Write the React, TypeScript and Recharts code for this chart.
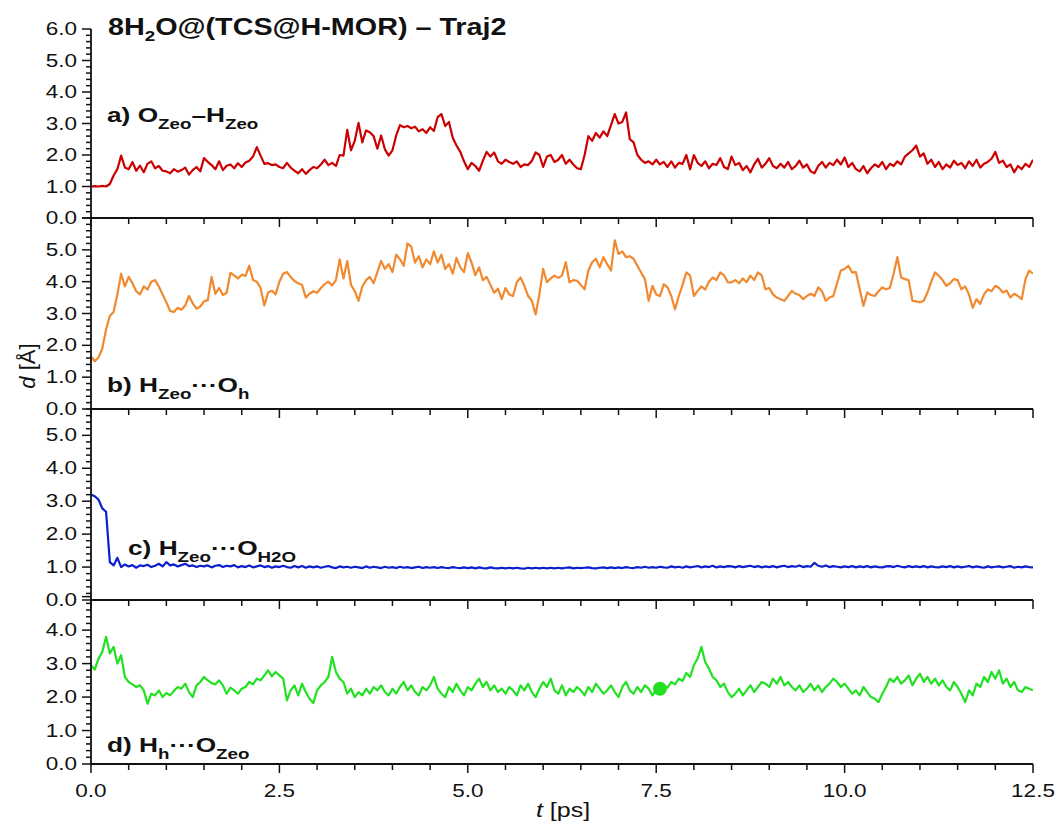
import { LineChart, Line, XAxis, YAxis, ReferenceDot } from 'recharts';

// sampling step of the trajectory (ps)
const DT = 0.05;

// a) O_Zeo–H_Zeo
const ohZeo = [
  1.0, 1.01, 1.0, 1.02, 1.0, 1.08, 1.35, 1.55, 1.98, 1.6,
  1.55, 1.78, 1.5, 1.66, 1.45, 1.72, 1.8, 1.58, 1.65, 1.5,
  1.48, 1.42, 1.55, 1.47, 1.52, 1.6, 1.38, 1.52, 1.62, 1.48,
  1.9, 1.78, 1.68, 1.55, 1.8, 1.52, 1.66, 1.7, 1.58, 1.74,
  1.62, 1.76, 1.82, 1.95, 2.25, 1.98, 1.72, 1.74, 1.68, 1.7,
  1.62, 1.58, 1.75, 1.6, 1.5, 1.42, 1.55, 1.4, 1.52, 1.62,
  1.58, 1.7, 1.85, 1.68, 1.75, 1.65, 2.0, 1.98, 2.8, 2.15,
  2.45, 3.02, 2.4, 2.78, 2.72, 2.6, 2.2, 2.62, 2.18, 1.98,
  2.15, 2.62, 2.95, 2.88, 2.92, 2.85, 2.9, 2.75, 2.82, 2.7,
  2.88, 2.76, 3.2, 3.3, 2.92, 3.05, 2.55, 2.3, 2.1, 1.8,
  1.55, 1.75, 1.65, 1.5, 1.82, 2.1, 1.95, 2.08, 1.8, 1.72,
  1.85, 1.78, 1.72, 1.8, 1.62, 1.7, 1.68, 1.82, 2.08, 2.0,
  1.62, 1.95, 2.0, 1.78, 1.85, 2.0, 1.72, 1.85, 1.7, 1.58,
  1.55, 2.0, 2.6, 2.45, 2.7, 2.55, 2.75, 2.6, 2.95, 3.3,
  3.0, 3.05, 3.35, 2.5, 2.4, 2.0, 1.85, 1.75, 1.8, 1.7,
  1.85, 1.7, 1.78, 1.62, 1.8, 1.6, 1.75, 1.72, 2.0, 1.55,
  2.0, 1.75, 1.65, 1.8, 1.58, 1.72, 1.68, 1.9, 1.62, 1.55,
  1.95, 1.68, 1.75, 1.52, 1.65, 1.45, 1.7, 1.88, 1.6, 1.72,
  1.9, 1.65, 1.58, 1.72, 1.6, 1.78, 1.55, 1.65, 1.82, 1.6,
  1.7, 1.48, 1.42, 1.65, 1.78, 1.6, 1.75, 1.68, 1.85, 1.7,
  1.92, 1.62, 1.75, 1.55, 1.48, 1.65, 1.42, 1.58, 1.7, 1.62,
  1.78, 1.55, 1.72, 1.65, 1.8, 1.7, 1.95, 2.05, 2.15, 2.3,
  1.95, 2.05, 1.72, 1.85, 1.62, 1.78, 1.55, 1.7, 1.6, 1.82,
  1.68, 1.75, 1.58, 1.8, 1.65, 1.85, 1.6, 1.72, 1.78, 1.88,
  2.1, 1.75, 1.82, 1.62, 1.7, 1.45, 1.65, 1.55, 1.72, 1.62,
  1.85,
];

// b) H_Zeo···O_h
const hZeoOh = [
  1.65, 1.5, 1.62, 1.9, 2.5, 2.92, 3.05, 3.6, 4.25, 3.85,
  4.15, 3.95, 3.7, 3.6, 3.85, 3.75, 4.0, 4.05, 3.85, 3.6,
  3.35, 3.08, 3.05, 3.18, 3.12, 3.25, 3.55, 3.32, 3.15, 3.22,
  3.38, 3.42, 4.15, 3.62, 3.8, 3.58, 3.65, 4.28, 4.2, 4.1,
  4.22, 4.18, 4.5, 4.05, 4.0, 3.8, 3.25, 3.65, 3.72, 3.6,
  4.0, 4.25, 4.3, 4.15, 4.02, 3.95, 3.9, 3.5, 3.62, 3.7,
  3.65, 3.8, 3.92, 4.0, 3.88, 4.05, 4.7, 4.1, 4.65, 3.9,
  3.7, 3.4, 3.85, 4.05, 4.15, 3.95, 4.3, 4.65, 4.4, 4.55,
  4.3, 4.85, 4.7, 4.5, 5.2, 5.1, 4.6, 4.8, 4.45, 4.7,
  4.55, 4.95, 4.6, 4.85, 4.4, 4.55, 4.25, 4.75, 4.45, 4.3,
  4.9, 4.6, 4.2, 4.45, 4.05, 4.15, 3.9, 3.65, 3.78, 3.45,
  3.8, 3.6, 3.55, 3.98, 4.13, 3.87, 3.55, 3.4, 2.97, 3.6,
  4.4, 3.98, 4.1, 4.19, 4.12, 4.19, 4.61, 3.98, 4.05, 4.03,
  3.9, 3.76, 4.35, 4.61, 4.72, 4.45, 4.77, 4.55, 4.35, 5.3,
  4.87, 4.95, 4.77, 4.8, 4.72, 4.5, 4.29, 4.08, 3.4, 3.87,
  3.6, 3.55, 3.92, 3.82, 3.55, 3.13, 3.55, 3.9, 4.29, 4.19,
  3.55, 3.71, 3.85, 3.75, 4.0, 4.13, 4.05, 4.29, 4.2, 3.98,
  3.98, 4.05, 3.95, 4.1, 3.98, 4.19, 4.05, 4.29, 4.2, 3.76,
  3.8, 3.6, 3.5, 3.45, 3.4, 3.55, 3.71, 3.62, 3.58, 3.45,
  3.55, 3.62, 3.55, 3.82, 3.7, 3.4, 3.5, 3.55, 3.95, 4.35,
  4.4, 4.5, 4.29, 4.3, 3.76, 3.24, 3.66, 3.58, 3.55, 3.7,
  3.82, 3.76, 3.8, 4.24, 4.77, 4.13, 4.08, 4.05, 3.4, 3.38,
  3.35, 3.4, 3.66, 4.0, 4.29, 4.19, 4.05, 3.87, 3.95, 4.08,
  4.05, 3.76, 3.85, 3.6, 3.18, 3.45, 3.3, 3.6, 3.76, 3.7,
  3.87, 3.8, 3.66, 3.72, 3.5, 3.62, 3.55, 3.45, 4.08, 4.35,
  4.25,
];

// c) H_Zeo···O_H2O
const hZeoOw = [
  3.2, 3.15, 3.05, 2.78, 2.68, 1.15, 1.05, 1.28, 1.0, 1.08,
  1.02, 1.06, 0.98, 1.05, 1.03, 1.07, 1.0, 1.04, 1.1, 1.02,
  1.15, 1.05, 1.08, 1.02, 1.06, 1.1, 1.03, 1.05, 1.0, 1.04,
  1.02, 1.05, 0.99, 1.04, 1.06, 1.0, 1.04, 1.02, 1.06, 0.99,
  1.03, 1.0, 1.05, 0.99, 1.02, 1.05, 1.0, 1.03, 0.98, 1.02,
  1.0, 1.04, 1.0, 0.98, 1.03, 0.99, 1.03, 0.98, 1.02, 0.99,
  1.02, 0.98, 1.01, 1.03, 0.99, 0.97, 1.02, 0.99, 1.01, 0.98,
  1.01, 0.99, 0.97, 1.02, 0.98, 1.01, 0.99, 0.97, 1.01, 0.98,
  1.0, 0.97, 1.01, 0.98, 1.0, 0.97, 0.99, 1.01, 0.97, 1.0,
  0.98, 1.0, 0.97, 1.0, 0.98, 0.97, 1.0, 0.98, 0.97, 0.99,
  0.97, 0.99, 0.96, 0.99, 0.97, 0.96, 0.99, 0.97, 0.96, 0.98,
  0.96, 0.98, 0.96, 0.98, 0.96, 0.95, 0.98, 0.96, 0.98, 0.96,
  0.98, 0.96, 0.98, 0.96, 0.98, 0.96, 0.98, 0.99, 0.96, 0.98,
  0.97, 0.98, 0.99, 0.97, 0.96, 0.98, 0.99, 0.97, 0.99, 0.97,
  0.99, 0.97, 1.0, 0.98, 0.97, 1.0, 0.98, 1.01, 0.98, 1.0,
  0.98, 1.01, 0.99, 0.98, 1.02, 0.99, 1.01, 0.98, 1.02, 0.99,
  1.01, 1.03, 0.99, 1.02, 1.0, 1.04, 0.99, 1.02, 1.0, 1.03,
  1.02, 0.99, 1.03, 1.0, 1.02, 1.04, 1.0, 1.03, 0.99, 1.02,
  1.0, 1.03, 0.99, 1.02, 1.04, 1.0, 1.03, 1.01, 1.05, 1.0,
  1.03, 1.01, 1.13, 1.04, 1.01, 1.05, 1.0, 1.03, 1.01, 0.99,
  1.02, 1.0, 1.03, 0.99, 1.02, 1.0, 1.03, 0.99, 1.02, 1.0,
  0.99, 1.02, 1.03, 1.0, 1.04, 1.01, 0.99, 1.03, 1.0, 1.02,
  1.0, 1.03, 0.99, 1.02, 1.0, 0.99, 1.02, 1.0, 1.03, 0.99,
  1.02, 0.99, 1.01, 1.03, 0.99, 1.02, 1.0, 0.98, 1.02, 0.99,
  1.01, 1.02, 0.99, 1.01, 1.03, 0.98, 1.01, 0.99, 1.02, 1.0,
  0.99,
];

// d) H_h···O_Zeo
const hhOZeo = [
  2.95, 2.82, 3.15, 3.35, 3.8, 3.3, 3.5, 3.0, 3.25, 2.6,
  2.45, 2.38, 2.3, 2.35, 2.2, 1.8, 2.1, 2.05, 2.2, 2.0,
  2.12, 2.05, 2.18, 2.3, 2.25, 2.4, 2.15, 2.0, 2.35, 2.45,
  2.6, 2.5, 2.42, 2.38, 2.5, 2.35, 2.1, 2.28, 2.2, 2.1,
  2.25, 2.3, 2.45, 2.38, 2.55, 2.5, 2.65, 2.8, 2.62, 2.75,
  2.65, 2.55, 1.9, 2.2, 2.35, 2.05, 2.4, 2.15, 1.95, 1.82,
  2.2, 2.35, 2.45, 2.6, 3.2, 2.75, 2.55, 2.45, 2.1, 2.25,
  2.0, 2.15, 2.05, 2.25, 2.1, 2.3, 2.2, 2.35, 2.15, 2.05,
  2.25, 2.1, 2.3, 2.45, 2.2, 2.35, 2.15, 2.05, 2.3, 2.2,
  2.35, 2.6, 2.25, 2.1, 2.0, 2.3, 2.15, 2.4, 2.2, 2.05,
  2.3, 2.2, 2.4, 2.55, 2.3, 2.45, 2.2, 2.35, 2.15, 2.25,
  2.1, 2.3, 2.2, 2.05, 2.35, 2.2, 2.4, 2.15, 2.0, 2.25,
  2.45, 2.3, 2.55, 2.2, 2.1, 2.35, 2.05, 2.25, 2.15, 2.3,
  2.2, 2.05, 2.3, 2.15, 2.4, 2.25, 2.1, 2.2, 2.35, 2.15,
  2.0, 2.3, 2.45, 2.2, 2.1, 2.3, 2.15, 2.35, 2.25, 2.05,
  2.2, 2.25, 2.35, 2.28, 2.45, 2.38, 2.55, 2.48, 2.72, 2.6,
  2.95, 3.15, 3.5, 3.05, 2.85, 2.6, 2.5, 2.3, 2.4, 2.15,
  2.0, 2.1, 2.25, 2.05, 2.2, 2.35, 2.15, 2.3, 2.45, 2.4,
  2.3, 2.55, 2.4, 2.6, 2.35, 2.45, 2.3, 2.2, 2.35, 2.15,
  2.25, 2.4, 2.2, 2.35, 2.15, 2.3, 2.4, 2.55, 2.45, 2.3,
  2.4, 2.25, 2.1, 2.2, 2.05, 2.3, 2.15, 2.0, 1.95, 1.85,
  2.1, 2.3, 2.55, 2.45, 2.6, 2.4, 2.5, 2.65, 2.35, 2.55,
  2.7, 2.45, 2.6, 2.4, 2.55, 2.35, 2.5, 2.3, 2.2, 2.45,
  2.3, 2.1, 1.85, 2.2, 2.05, 2.4, 2.3, 2.6, 2.45, 2.75,
  2.55, 2.8, 2.4, 2.55, 2.3, 2.45, 2.2, 2.15, 2.3, 2.25,
  2.2,
];

// highlighted frame in panel d
const markT = 7.55;
const markD = 2.25;

const X_TICKS = [
  0, 0.5, 1, 1.5, 2, 2.5, 3, 3.5, 4, 4.5, 5, 5.5, 6, 6.5, 7, 7.5, 8, 8.5, 9, 9.5,
  10, 10.5, 11, 11.5, 12, 12.5,
];

const data = ohZeo.map((a, i) => ({
  t: +(i * DT).toFixed(2),
  a,
  b: hZeoOh[i],
  c: hZeoOw[i],
  d: hhOZeo[i],
}));

const FONT = '"Liberation Sans", Arial, Helvetica, sans-serif';
const INK = '#111';
const SX = 1.25; // the source figure is stretched horizontally

const minorTicks = (max: number) =>
  Array.from({ length: Math.round(max / 0.2) + 1 }, (_, i) => +(i * 0.2).toFixed(1));

const PANELS = [
  { key: 'a', color: '#cc0000', top: 29, height: 189, max: 6, labelMax: 6, xLabels: false },
  { key: 'b', color: '#f0892f', top: 218, height: 191, max: 6, labelMax: 5, xLabels: false },
  { key: 'c', color: '#0b1fcc', top: 409, height: 191, max: 5.8, labelMax: 5, xLabels: false },
  { key: 'd', color: '#22e022', top: 600, height: 164, max: 4.9, labelMax: 4, xLabels: true },
];

function YTick({ x, y, payload, labelMax }: any) {
  const v = payload.value;
  const major = Math.abs(v - Math.round(v)) < 1e-6;
  return (
    <g>
      <line x1={x} x2={x - (major ? 9 : 5)} y1={y} y2={y} stroke={INK} strokeWidth={1.5} />
      {major && v <= labelMax + 1e-6 && (
        <text
          transform={`translate(${x - 14},${y + 6}) scale(${SX},1)`}
          textAnchor="end"
          fontFamily={FONT}
          fontSize={18}
          fill={INK}
        >
          {v.toFixed(1)}
        </text>
      )}
    </g>
  );
}

function XTick({ x, y, payload, showLabels }: any) {
  const v = payload.value;
  const major = Math.abs(v / 2.5 - Math.round(v / 2.5)) < 1e-6;
  return (
    <g>
      <line x1={x} x2={x} y1={y} y2={y + (major ? 9 : 6)} stroke={INK} strokeWidth={1.5} />
      {showLabels && major && (
        <text
          transform={`translate(${x},${y + 33}) scale(${SX},1)`}
          textAnchor="middle"
          fontFamily={FONT}
          fontSize={18}
          fill={INK}
        >
          {v.toFixed(1)}
        </text>
      )}
    </g>
  );
}

function Panel({ p }: { p: (typeof PANELS)[number] }) {
  const mt = 12;
  const xh = p.xLabels ? 40 : 12;
  return (
    <div style={{ position: 'absolute', left: 0, top: p.top - mt }}>
      <LineChart
        width={1057}
        height={mt + p.height + xh}
        data={data}
        margin={{ top: mt, right: 24, bottom: 0, left: 31 }}
      >
        <XAxis
          dataKey="t"
          type="number"
          domain={[0, 12.5]}
          ticks={X_TICKS}
          interval={0}
          tickSize={0}
          tickMargin={0}
          height={xh}
          allowDataOverflow
          axisLine={{ stroke: INK, strokeWidth: 1.8 }}
          tick={(props: any) => <XTick {...props} showLabels={p.xLabels} />}
        />
        <YAxis
          type="number"
          domain={[0, p.max]}
          ticks={minorTicks(p.max)}
          interval={0}
          tickSize={0}
          tickMargin={0}
          width={60}
          allowDataOverflow
          axisLine={{ stroke: INK, strokeWidth: 1.8 }}
          tick={(props: any) => <YTick {...props} labelMax={p.labelMax} />}
        />
        <Line
          type="linear"
          dataKey={p.key}
          stroke={p.color}
          strokeWidth={2.2}
          strokeLinejoin="round"
          dot={false}
          isAnimationActive={false}
        />
        {p.key === 'd' && (
          <ReferenceDot x={markT} y={markD} r={7} fill={p.color} stroke="none" />
        )}
      </LineChart>
    </div>
  );
}

const sub = { fontSize: 15 };

export default function App() {
  return (
    <div
      style={{
        position: 'absolute',
        left: 0,
        top: 0,
        width: 1057,
        height: 825,
        background: '#fff',
        overflow: 'hidden',
      }}
    >
      {PANELS.map((p) => (
        <Panel key={p.key} p={p} />
      ))}
      <svg
        width={1057}
        height={825}
        style={{ position: 'absolute', left: 0, top: 0, pointerEvents: 'none' }}
        fontFamily={FONT}
        fill={INK}
      >
        <text transform={`translate(108,35) scale(${SX},1)`} fontSize={23} fontWeight="bold">
          8H<tspan {...sub} dy={6}>2</tspan>
          <tspan dy={-6}>O@(TCS@H-MOR) – Traj2</tspan>
        </text>

        <text transform={`translate(107,122) scale(${SX},1)`} fontSize={21} fontWeight="bold">
          a) O<tspan {...sub} dy={7}>Zeo</tspan>
          <tspan dy={-7}>–H</tspan>
          <tspan {...sub} dy={7}>Zeo</tspan>
        </text>
        <text transform={`translate(107,392) scale(${SX},1)`} fontSize={21} fontWeight="bold">
          b) H<tspan {...sub} dy={7}>Zeo</tspan>
          <tspan dy={-7}>···O</tspan>
          <tspan {...sub} dy={7}>h</tspan>
        </text>
        <text transform={`translate(128,555) scale(${SX},1)`} fontSize={21} fontWeight="bold">
          c) H<tspan {...sub} dy={7}>Zeo</tspan>
          <tspan dy={-7}>···O</tspan>
          <tspan {...sub} dy={7}>H2O</tspan>
        </text>
        <text transform={`translate(107,752) scale(${SX},1)`} fontSize={21} fontWeight="bold">
          d) H<tspan {...sub} dy={7}>h</tspan>
          <tspan dy={-7}>···O</tspan>
          <tspan {...sub} dy={7}>Zeo</tspan>
        </text>

        <text transform="translate(35,366) rotate(-90)" textAnchor="middle" fontSize={22}>
          <tspan fontStyle="italic">d</tspan> [Å]
        </text>
        <text transform={`translate(563,817) scale(${SX},1)`} textAnchor="middle" fontSize={20}>
          <tspan fontStyle="italic">t</tspan> [ps]
        </text>
      </svg>
    </div>
  );
}
